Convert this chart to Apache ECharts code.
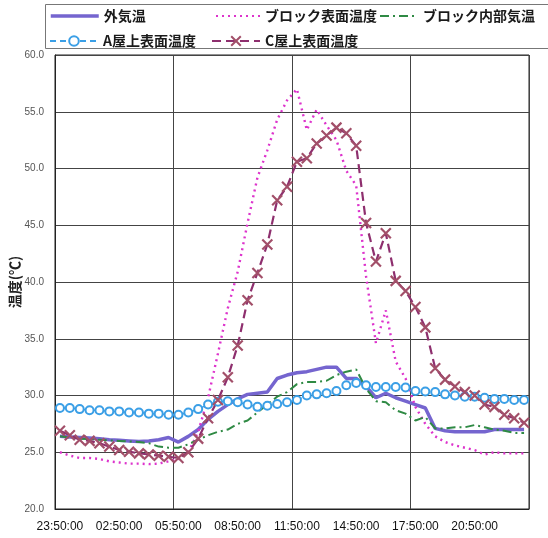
<!DOCTYPE html>
<html><head><meta charset="utf-8">
<script src="https://cdn.jsdelivr.net/npm/echarts@6/dist/echarts.min.js"></script>
<style>html,body{margin:0;padding:0;background:#fff}#c{width:548px;height:538px}</style>
</head><body><div id="c"></div>
<script>
const categories = ['23:50:00','00:20:00','00:50:00','01:20:00','01:50:00','02:20:00','02:50:00','03:20:00','03:50:00','04:20:00','04:50:00','05:20:00','05:50:00','06:20:00','06:50:00','07:20:00','07:50:00','08:20:00','08:50:00','09:20:00','09:50:00','10:20:00','10:50:00','11:20:00','11:50:00','12:20:00','12:50:00','13:20:00','13:50:00','14:20:00','14:50:00','15:20:00','15:50:00','16:20:00','16:50:00','17:20:00','17:50:00','18:20:00','18:50:00','19:20:00','19:50:00','20:20:00','20:50:00','21:20:00','21:50:00','22:20:00','22:50:00','23:20:00'];
const outdoor = [26.4,26.35,26.3,26.25,26.2,26.1,26.05,26.0,25.95,26.0,26.1,26.3,25.9,26.4,27.0,27.9,28.6,29.2,29.7,30.1,30.2,30.3,31.5,31.8,32.0,32.1,32.3,32.5,32.5,31.5,31.5,30.8,29.8,30.2,29.8,29.5,29.2,28.9,27.1,26.9,26.8,26.8,26.8,26.8,27.0,27.0,27.0,27.0];
const blockSurface = [25.0,24.7,24.5,24.5,24.4,24.2,24.1,24.0,24.0,23.95,24.0,24.2,24.4,25.0,26.8,29.8,33.7,37.7,40.9,45.2,49.2,51.6,54.3,56.0,57.0,53.4,55.2,53.8,52.5,49.8,48.5,40.5,34.6,37.5,33.0,31.5,29.0,27.5,26.4,25.9,25.6,25.4,25.2,24.8,25.0,24.9,24.9,24.9];
const blockInside = [26.4,26.3,26.2,26.15,26.1,26.05,26.0,25.95,25.9,25.8,25.5,25.4,25.4,25.7,26.1,26.5,26.8,27.0,27.5,27.8,28.5,29.2,29.9,30.3,31.0,31.2,31.2,31.3,31.8,32.1,32.3,30.6,29.5,29.4,28.7,28.4,27.8,28.1,27.1,27.1,27.2,27.2,27.4,27.2,27.0,26.9,26.7,26.7];
const roofA = [28.9,28.9,28.8,28.7,28.7,28.6,28.6,28.5,28.5,28.4,28.4,28.3,28.3,28.5,28.8,29.2,29.45,29.5,29.4,29.2,29.0,29.1,29.25,29.4,29.6,30.0,30.1,30.2,30.4,30.9,31.1,30.9,30.75,30.75,30.75,30.7,30.4,30.35,30.3,30.1,30.0,29.9,29.9,29.8,29.7,29.7,29.6,29.6];
const roofC = [26.9,26.5,26.1,26.0,25.8,25.5,25.2,25.05,24.9,24.8,24.7,24.6,24.5,25.0,26.2,28.0,29.6,31.6,34.4,38.4,40.8,43.3,47.2,48.4,50.6,50.9,52.2,52.9,53.6,53.1,52.0,45.2,41.8,44.3,40.1,39.2,37.8,36.0,32.4,31.4,30.8,30.3,30.0,29.2,29.0,28.3,28.0,27.6];
const seriesNames = ['外気温','ブロック表面温度','ブロック内部気温','A屋上表面温度','C屋上表面温度'];
const yTicks = {min: 20, max: 60, step: 5};
const yName = '温度(℃)';

const chart = echarts.init(document.getElementById('c'), null, {renderer: 'canvas'});
const legendText = {fontSize: 14, fontWeight: 'bold', color: '#1a1a1a', fontFamily: '"Noto Sans CJK JP", sans-serif'};
function lg(name, left, top, w, noSymbol, lw) {
  const item = {name: name};
  if (noSymbol) item.itemStyle = {color: 'rgba(0,0,0,0)', borderWidth: 0, opacity: 0};
  if (lw) item.lineStyle = {width: lw};
  return {data: [item], left: left, top: top, itemWidth: w, itemHeight: 12, itemGap: 4, padding: 0, textStyle: legendText};
}
const xPath = 'path://M0,0L10,10M10,0L0,10';
chart.setOption({
  animation: false,
  backgroundColor: '#fff',
  graphic: [{type: 'rect', shape: {x: 45.5, y: 4.5, width: 520, height: 44}, style: {fill: 'none', stroke: '#777', lineWidth: 1}, silent: true}],
  legend: [lg(seriesNames[0], 49, 9, 48, true, 3.5), lg(seriesNames[1], 215, 9, 44, true), lg(seriesNames[2], 379, 9, 38, true), lg(seriesNames[3], 49, 34, 48, false), lg(seriesNames[4], 211, 34, 48, false)],
  grid: {left: 55, right: 19, top: 55, bottom: 29, containLabel: false, outerBoundsMode: 'none', show: true, borderColor: '#222', borderWidth: 1, backgroundColor: 'transparent'},
  xAxis: {
    type: 'category', data: categories, boundaryGap: true,
    axisLine: {show: true, lineStyle: {color: '#222'}},
    axisTick: {show: false},
    axisLabel: {interval: 5, margin: 12, fontSize: 12, color: '#111', fontFamily: '"Liberation Sans", Arial, sans-serif'},
    splitLine: {show: true, interval: 11, lineStyle: {color: '#444', width: 1}}
  },
  yAxis: {
    type: 'value', min: yTicks.min, max: yTicks.max, interval: yTicks.step,
    name: yName, nameLocation: 'middle', nameRotate: 90, nameGap: 33, nameMoveOverlap: false,
    nameTextStyle: {fontSize: 14, fontWeight: 'bold', color: '#222', fontFamily: '"Noto Sans CJK JP", sans-serif'},
    axisLine: {show: true, lineStyle: {color: '#222'}},
    axisTick: {show: false},
    axisLabel: {formatter: v => v.toFixed(1), fontSize: 10, color: '#555', margin: 11, fontFamily: '"Liberation Sans", Arial, sans-serif'},
    splitLine: {show: true, lineStyle: {color: '#444', width: 1}}
  },
  series: [
    {name: seriesNames[0], type: 'line', data: outdoor, showSymbol: false, symbol: 'none',
     lineStyle: {color: '#7565cf', width: 3.5}, itemStyle: {color: '#7565cf'}},
    {name: seriesNames[1], type: 'line', data: blockSurface, showSymbol: false, symbol: 'none',
     lineStyle: {color: '#dd33cc', width: 2.4, type: [2, 4]}, itemStyle: {color: '#dd33cc'}},
    {name: seriesNames[2], type: 'line', data: blockInside, showSymbol: false, symbol: 'none',
     lineStyle: {color: '#2f8a44', width: 2, type: [9, 4, 2, 4]}, itemStyle: {color: '#2f8a44'}},
    {name: seriesNames[3], type: 'line', data: roofA, symbol: 'emptyCircle', symbolSize: 8, showAllSymbol: true,
     lineStyle: {color: '#3b9fe6', width: 1.5, type: [6, 4]},
     itemStyle: {color: '#3b9fe6', borderColor: '#3b9fe6', borderWidth: 1.6}},
    {name: seriesNames[4], type: 'line', data: roofC, symbol: xPath, symbolSize: 10, symbolKeepAspect: true, showAllSymbol: true,
     lineStyle: {color: '#8e2f6e', width: 2.2, type: [9, 5]},
     itemStyle: {color: 'rgba(0,0,0,0)', borderColor: '#a24f69', borderWidth: 2.2}}
  ]
});
</script></body></html>
